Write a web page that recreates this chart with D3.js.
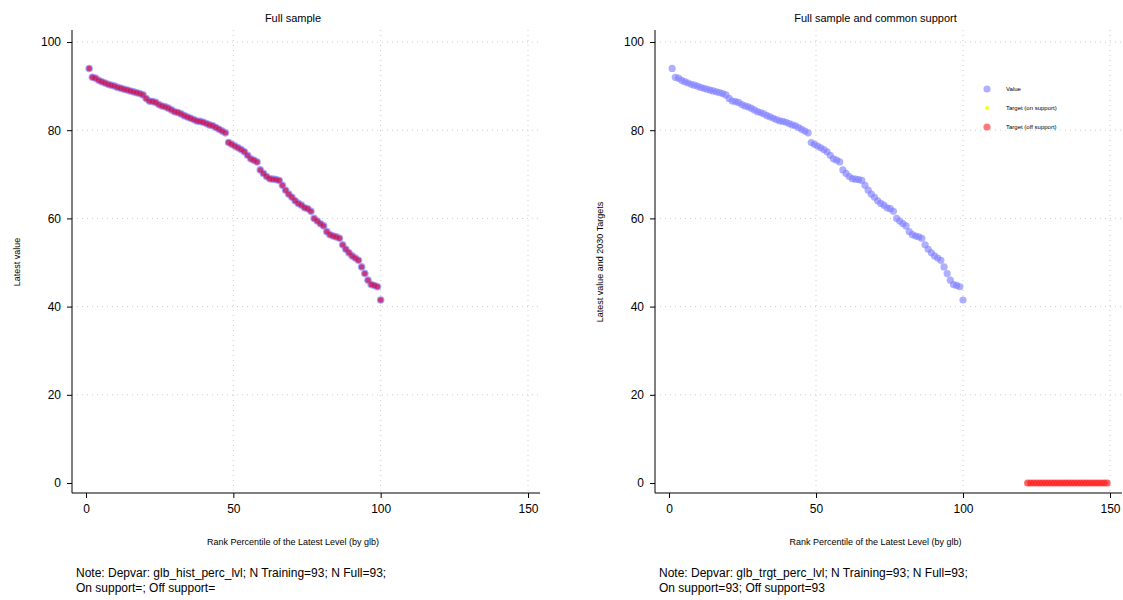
<!DOCTYPE html>
<html><head><meta charset="utf-8">
<script src="https://cdn.jsdelivr.net/npm/d3@7"></script>
<style>body{margin:0;background:#fff;font-family:"Liberation Sans",Arial,sans-serif}</style>
</head><body>
<script>
// latest values sorted descending (rank percentile computed from position)
var latest = [94, 92, 91.8, 91.3, 91, 90.7, 90.4, 90.2, 90, 89.7, 89.5, 89.3, 89.1, 88.9, 88.7, 88.5, 88.3, 88, 87.2, 86.6,
  86.5, 86.3, 85.8, 85.5, 85.3, 85, 84.6, 84.2, 84, 83.7, 83.3, 83, 82.7, 82.4, 82.1, 82, 81.8, 81.5, 81.2, 81, 80.6,
  80.2, 79.8, 79.4, 77.2, 76.8, 76.4, 76, 75.6, 75.1, 74.3, 73.5, 73.2, 72.8, 71, 70.2, 69.5, 69, 68.9, 68.8, 68.6, 67.5, 66.4, 65.5,
  64.8, 64, 63.4, 63, 62.4, 62.2, 61.6, 60, 59.4, 58.8, 58.3, 57, 56.3, 56, 55.8, 55.5, 54, 53, 52.2, 51.5, 51, 50.5, 49, 47.5, 46, 45, 44.8, 44.5, 41.5];
// off-support target positions (all at 0)
var offRank = [122, 123, 124, 125, 126, 127, 128, 129, 130, 131, 132, 133, 134, 135, 136, 137, 138, 139, 140, 141, 142, 143, 144,
  145, 146, 147, 148, 149];
var offValue = offRank.map(function () { return 0; });
var xTicks = [0, 50, 100, 150];
var yTicks = [0, 20, 40, 60, 80, 100];

var n = latest.length;
var pts = latest.map(function (v, i) { return {x: (i + 1) / n * 100, y: v}; });
var off = offRank.map(function (r, i) { return {x: r, y: offValue[i]}; });

var svg = d3.select("body").append("svg").attr("width", 1123).attr("height", 600);

function panel(x0, x1, title, ylab, note1, note2, right) {
  var x = d3.scaleLinear().domain([0, 150]).range([x0, x1]);
  var y = d3.scaleLinear().domain([0, 100]).range([483, 42]);
  var g = svg.append("g");
  // grid
  g.selectAll(".gx").data(xTicks.slice(1)).enter().append("line")
    .attr("x1", x).attr("x2", x).attr("y1", 30).attr("y2", 493)
    .attr("stroke", "#ccc").attr("stroke-dasharray", "1,4");
  g.selectAll(".gy").data(yTicks.slice(1)).enter().append("line")
    .attr("x1", x0 - 14).attr("x2", x1 + 12).attr("y1", y).attr("y2", y)
    .attr("stroke", "#ccc").attr("stroke-dasharray", "1,4");
  // axes
  var ax = g.append("g").attr("transform", "translate(0,493)")
    .call(d3.axisBottom(x).tickValues(xTicks).tickSize(5).tickPadding(6));
  ax.select(".domain").attr("d", "M" + (x0 - 14) + ",0H" + (x1 + 12));
  var ay = g.append("g").attr("transform", "translate(" + (x0 - 14) + ",0)")
    .call(d3.axisLeft(y).tickValues(yTicks).tickSize(5).tickPadding(6));
  ay.select(".domain").attr("d", "M0,30V493");
  g.selectAll(".tick text").attr("font-size", 12).attr("font-family", "Liberation Sans, Arial");
  g.append("text").attr("x", (x0 + x1) / 2 - 14).attr("y", 545).attr("text-anchor", "middle")
    .attr("font-size", 9).text("Rank Percentile of the Latest Level (by glb)");
  g.append("text").attr("transform", "translate(" + (x0 - 66) + ",262)rotate(-90)")
    .attr("text-anchor", "middle").attr("font-size", 9).text(ylab);
  g.append("text").attr("x", (x0 + x1) / 2 - 14).attr("y", 22).attr("text-anchor", "middle")
    .attr("font-size", 11).text(title);
  g.append("text").attr("x", x0 - 10).attr("y", 577).attr("font-size", 12).text(note1);
  g.append("text").attr("x", x0 - 10).attr("y", 592).attr("font-size", 12).text(note2);

  if (!right) {
    g.selectAll(".pb").data(pts).enter().append("circle")
      .attr("cx", function (d) { return x(d.x); }).attr("cy", function (d) { return y(d.y); })
      .attr("r", 3.8).attr("fill", "#8a8aff").attr("opacity", 0.75);
    g.selectAll(".pr").data(pts).enter().append("circle")
      .attr("cx", function (d) { return x(d.x); }).attr("cy", function (d) { return y(d.y); })
      .attr("r", 2.7).attr("fill", "#d0104a").attr("opacity", 0.7);
  } else {
    g.selectAll(".pb").data(pts).enter().append("circle")
      .attr("cx", function (d) { return x(d.x); }).attr("cy", function (d) { return y(d.y); })
      .attr("r", 3.6).attr("fill", "#7a7aff").attr("opacity", 0.6);
    g.selectAll(".po").data(off).enter().append("circle")
      .attr("cx", function (d) { return x(d.x); }).attr("cy", function (d) { return y(d.y); })
      .attr("r", 3.6).attr("fill", "#ff2020").attr("opacity", 0.7);
    var leg = [["Value", "#7a7aff", 3.6, 0.6], ["Target (on support)", "#ffff00", 2, 1], ["Target (off support)", "#ff2020", 3.6, 0.6]];
    leg.forEach(function (l, i) {
      var ly = 89 + i * 19;
      g.append("circle").attr("cx", 987).attr("cy", ly).attr("r", l[2]).attr("fill", l[1]).attr("opacity", l[3]);
      g.append("text").attr("x", 1006).attr("y", ly + 2).attr("font-size", 6).text(l[0]);
    });
  }
}

panel(86, 528, "Full sample", "Latest value",
  "Note: Depvar: glb_hist_perc_lvl; N Training=93; N Full=93;", "On support=; Off support=", false);
panel(669, 1110, "Full sample and common support", "Latest value and 2030 Targets",
  "Note: Depvar: glb_trgt_perc_lvl; N Training=93; N Full=93;", "On support=93; Off support=93", true);
</script>
</body></html>
